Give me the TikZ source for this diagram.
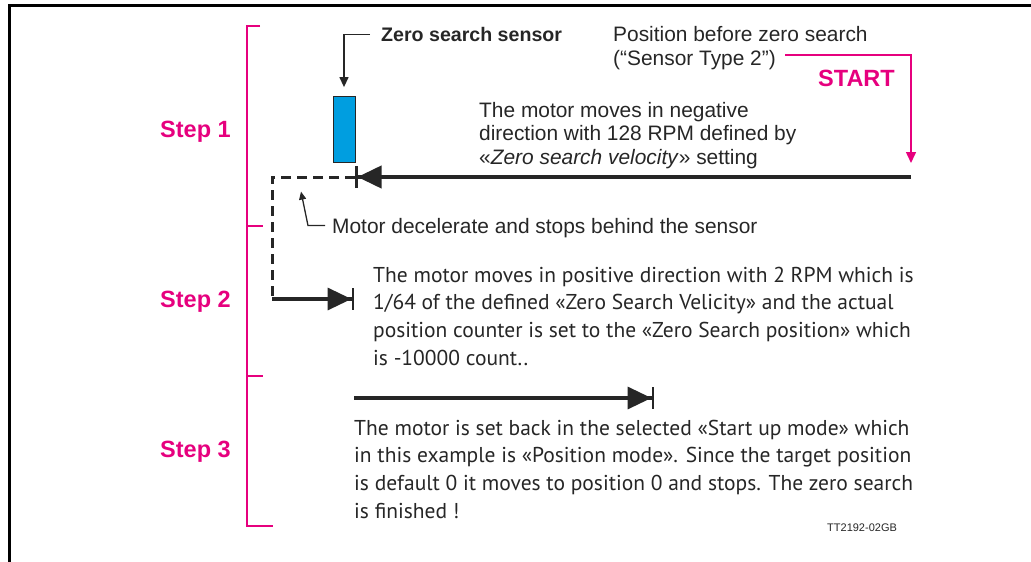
\documentclass[tikz,border=0pt]{standalone}
\usepackage{fontspec}
\setmainfont{Liberation Sans}
\newfontfamily\stepfont{PT Sans}
\usetikzlibrary{arrows.meta,positioning}
\definecolor{zsmagenta}{RGB}{230,0,126}
\definecolor{zsblue}{RGB}{0,158,224}
\definecolor{zsink}{RGB}{38,38,38}

\begin{document}
\begin{tikzpicture}[x=1pt,y=-1pt,
  txt/.style={anchor=base west,align=left,inner sep=0pt,text=zsink,font=\fontsize{20.9}{23.5}\selectfont},
  steptxt/.style={anchor=base west,align=left,inner sep=0pt,text=zsink,font=\stepfont\fontsize{21.5}{27.8}\selectfont},
  steplbl/.style={anchor=base west,inner sep=0pt,text=zsmagenta,font=\fontsize{23.5}{26}\selectfont\bfseries},
  move/.style={draw=zsink,line width=3.5pt,-{Triangle[length=24pt,width=22pt]Bar[width=22pt,line width=2.5pt]}},
  pointer/.style={draw=zsink,line width=1.3pt,-{Triangle[length=10pt,width=9pt]}}]
  \useasboundingbox (0,0) rectangle (1031,562);
  \draw[line width=3pt] (1031,5.5) -- (9.5,5.5) -- (9.5,562);

  \draw[zsmagenta,line width=2pt] (260,26) -- (247,26) -- (247,526) -- (273,526);
  \foreach \y in {226,376}
    \draw[zsmagenta,line width=2pt] (247,\y) -- (263,\y);
  \node[steplbl] (step1) at (160,137) {Step 1};
  \node[steplbl] (step2) at (160,307) {Step 2};
  \node[steplbl] (step3) at (160,457) {Step 3};

  \node[draw=zsink,fill=zsblue,minimum width=22pt,minimum height=66pt,inner sep=0pt,line width=0.8pt] (sensor) at (344,129.5) {};
  \node[txt,font=\fontsize{19.6}{23}\selectfont\bfseries] (senslbl) at (381,41.5) {Zero search sensor};
  \draw[pointer] ([xshift=-11pt]senslbl.west) -| ([yshift=9pt]sensor.north);

  \node[txt] (poslbl) at (613,65.2) {Position before zero search\\(“Sensor Type 2”)};
  \node[steplbl] (startlbl) at (818,86.5) {START};
  \coordinate (startfrom) at (785,55);
  \coordinate (starttip) at (911,163);
  \draw[zsmagenta,line width=1.5pt,-{Triangle[length=11pt,width=10pt]}] (startfrom) -| (starttip);

  \node[txt] (movelbl) at (479,164) {The motor moves in negative\\direction with 128 RPM defined by\\«\textit{Zero search velocity}» setting};

  \coordinate (start) at (911,177);
  \coordinate (stop1) at (355,177);
  \coordinate (back) at (272,177);
  \coordinate (turn) at (272,299);
  \coordinate (stop2) at (354,299);
  \coordinate (go3) at (354,398);
  \coordinate (stop3) at (654,398);
  \draw[move,line width=4pt] (start) -- (stop1);
  \draw[zsink,line width=3pt,dash pattern=on 10pt off 6pt] (stop1) -- (back) -- (turn);
  \draw[move] (turn) -- (stop2);
  \draw[move] (go3) -- (stop3);

  \node[txt] (declbl) at (332,233) {Motor decelerate and stops behind the sensor};
  \draw[pointer,-{Triangle[length=8pt,width=7pt]}] ([xshift=-7pt,yshift=2pt]declbl.west) -- ++(-17,0) -- ++(-7,-34);

  \node[steptxt] (step2txt) at (373,365.4) {The motor moves in positive direction with 2 RPM which is\\1/64 of the defined «Zero Search Velicity» and the actual\\position counter is set to the «Zero Search position» which\\is -10000 count..};
  \node[steptxt] (step3txt) at (354,518.4) {The motor is set back in the selected «Start up mode» which\\in this example is «Position mode». Since the target position\\is default 0 it moves to position 0 and stops. The zero search\\is finished !};
  \node[anchor=base west,inner sep=0pt,text=zsink,font=\fontsize{11}{13}\selectfont] (ttref) at (827,531) {TT2192-02GB};
\end{tikzpicture}
\end{document}
